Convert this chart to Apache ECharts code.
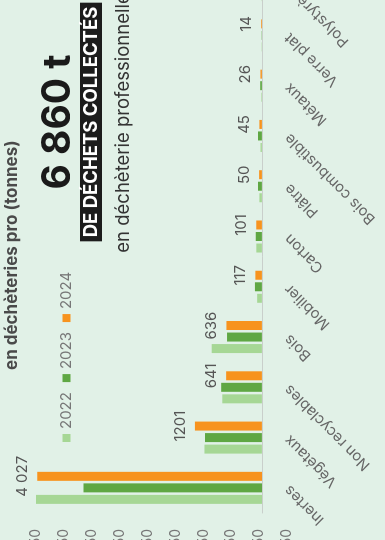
<!DOCTYPE html>
<html>
<head>
<meta charset="utf-8">
<script src="https://cdn.jsdelivr.net/npm/echarts@6/dist/echarts.min.js"></script>
<style>
  html, body { margin: 0; padding: 0; width: 385px; height: 540px; overflow: hidden; background: #e1f1e7; }
  /* the chart is laid out landscape and turned a quarter turn to stand upright */
  #chart {
    position: absolute; left: 0; top: 0;
    width: 540px; height: 385px;
    transform-origin: 0 0;
    transform: translate(0, 540px) rotate(-90deg);
  }
</style>
</head>
<body>
<div id="chart"></div>
<script>
const categories = ['Inertes', 'Végétaux', 'Non recyclables', 'Bois', 'Mobilier', 'Carton', 'Plâtre', 'Bois combustible', 'Métaux', 'Verre plat', 'Polystyrène'];
const years = ['2022', '2023', '2024'];
const values2022 = [4060, 1030, 710, 900, 85, 100, 45, 25, 10, 5, 3];
const values2023 = [3200, 1020, 730, 625, 125, 110, 70, 70, 30, 5, 3];
const values2024 = [4027, 1201, 641, 636, 117, 101, 50, 45, 26, 14, 2];
const labels2024 = ['4 027', '1201', '641', '636', '117', '101', '50', '45', '26', '14', '2'];
const totalText = '6 860 t';

const colors = ['#a6d795', '#5fa743', '#f7931e'];
const FONT = 'Inter, "Noto Sans", sans-serif';

const chart = echarts.init(document.getElementById('chart'), null, { renderer: 'canvas' });

function fmt(v) {
  const s = String(Math.abs(v)).replace(/\B(?=(\d{3})+(?!\d))/g, ' ');
  return (v < 0 ? '-' : '') + s;
}

chart.setOption({
  backgroundColor: '#e1f1e7',
  animation: false,
  textStyle: { fontFamily: FONT },
  legend: {
    data: years,
    left: 93,
    top: 54,
    itemWidth: 8,
    itemHeight: 8,
    itemGap: 10,
    icon: 'rect',
    textStyle: { color: '#777', fontSize: 15, fontFamily: FONT }
  },
  graphic: [
    {
      type: 'text', left: 170, top: 3,
      style: { text: 'en déchèteries pro (tonnes)', font: 'bold 17px ' + FONT, fill: '#4a4a4a' }
    },
    {
      type: 'text', x: 418, y: 58,
      style: { text: totalText, font: 'bold 39px ' + FONT, fill: '#1a1a1a', textAlign: 'center', textVerticalAlign: 'middle' }
    },
    {
      type: 'text', x: 418, y: 91,
      style: {
        text: 'DE DÉCHETS COLLECTÉS', font: 'bold 18.5px ' + FONT, fill: '#ffffff',
        textAlign: 'center', textVerticalAlign: 'middle',
        backgroundColor: '#1c1c1c', padding: [2, 4, 1, 4]
      }
    },
    {
      type: 'text', x: 417, y: 123,
      style: { text: 'en déchèterie professionnelle', font: '18.5px ' + FONT, fill: '#333', textAlign: 'center', textVerticalAlign: 'middle' }
    }
  ],
  grid: { left: 27, top: 36, width: 553, height: 251, containLabel: false, outerBoundsMode: 'none' },
  xAxis: {
    type: 'category',
    data: categories,
    axisLine: { onZero: true, lineStyle: { color: '#c9cfcb', width: 1 } },
    axisTick: { show: false },
    axisLabel: { interval: 0, rotate: 45, margin: 0, color: '#666', fontSize: 15, fontFamily: FONT }
  },
  yAxis: {
    type: 'value',
    min: -450,
    max: 4050,
    interval: 500,
    axisLine: { show: false },
    axisTick: { show: false },
    splitLine: { show: false },
    axisLabel: { color: '#777', fontSize: 14, margin: 16, formatter: fmt, fontFamily: FONT }
  },
  series: [
    { name: years[0], type: 'bar', data: values2022, barWidth: 9, barGap: '28%', itemStyle: { color: colors[0] } },
    { name: years[1], type: 'bar', data: values2023, barWidth: 9, barGap: '28%', itemStyle: { color: colors[1] } },
    {
      name: years[2], type: 'bar', data: values2024, barWidth: 9, barGap: '28%', itemStyle: { color: colors[2] },
      label: {
        show: true, position: 'top', distance: 7, color: '#555', fontSize: 15, fontFamily: FONT,
        formatter: p => labels2024[p.dataIndex]
      }
    }
  ]
});
</script>
</body>
</html>
